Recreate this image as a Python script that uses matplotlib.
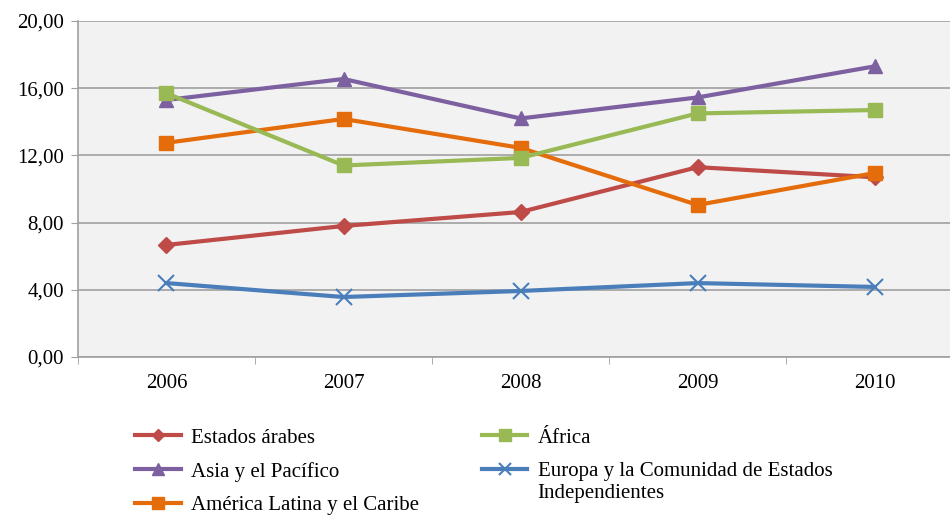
import numpy as np
import matplotlib.pyplot as plt
from matplotlib.ticker import FixedLocator

plt.rcParams['font.family'] = ['Liberation Serif', 'DejaVu Serif']

years = ['2006', '2007', '2008', '2009', '2010']
arabes = [6.67, 7.80, 8.63, 11.30, 10.70]
asia = [15.30, 16.55, 14.20, 15.45, 17.30]
africa = [15.70, 11.40, 11.85, 14.50, 14.70]
america = [12.75, 14.17, 12.45, 9.05, 10.95]
europa = [4.40, 3.57, 3.93, 4.40, 4.17]
yticks = [0, 4, 8, 12, 16, 20]
ytick_labels = ['0,00', '4,00', '8,00', '12,00', '16,00', '20,00']

fig = plt.figure(figsize=(9.5, 5.15), dpi=100)
ax = fig.add_axes([0.0821, 0.3068, 0.9316, 0.6524])
ax.set_facecolor('#f2f2f2')

x = np.arange(len(years))
l1, = ax.plot(x, arabes, color='#be4b48', lw=3, marker='D', ms=8, label='Estados árabes')
l2, = ax.plot(x, asia, color='#7d60a0', lw=3, marker='^', ms=10, label='Asia y el Pacífico')
l3, = ax.plot(x, america, color='#e46c0a', lw=3, marker='s', ms=10, label='América Latina y el Caribe')
l4, = ax.plot(x, africa, color='#98b954', lw=3, marker='s', ms=10, label='África')
l5, = ax.plot(x, europa, color='#4a7ebb', lw=3, marker='x', ms=11, mew=1.5,
              label='Europa y la Comunidad de Estados')
l4.set_zorder(3)

ax.set_xlim(-0.5, len(years) - 0.5)
ax.set_ylim(0, 20)
ax.set_yticks(yticks)
ax.set_yticklabels(ytick_labels, fontsize=15)
ax.set_xticks(x)
ax.set_xticklabels(years, fontsize=15)
ax.xaxis.set_minor_locator(FixedLocator(np.arange(-0.5, len(years), 1)))
ax.tick_params(axis='x', which='major', length=0, pad=12)
ax.tick_params(axis='x', which='minor', length=5, color='#a0a0a0')
ax.tick_params(axis='y', length=5, color='#a0a0a0', pad=5)
ax.grid(axis='y', color='#a0a0a0', lw=1.2)
ax.set_axisbelow(True)
for s in ['top', 'right']:
    ax.spines[s].set_visible(False)
for s in ['left', 'bottom']:
    ax.spines[s].set_color('#a0a0a0')
    ax.spines[s].set_linewidth(1.2)

leg = fig.legend(handles=[l1, l2, l3, l4, l5], ncol=2, loc='upper left',
                 bbox_to_anchor=(0.142, 0.169), frameon=False, fontsize=15,
                 handlelength=2.2, handletextpad=0.5, columnspacing=3.0,
                 labelspacing=0.68, borderaxespad=0, borderpad=0, markerscale=0.8)
fig.text(0.566, 0.041, 'Independientes', fontsize=15, va='center', ha='left')

fig.savefig('out.png', dpi=100)
